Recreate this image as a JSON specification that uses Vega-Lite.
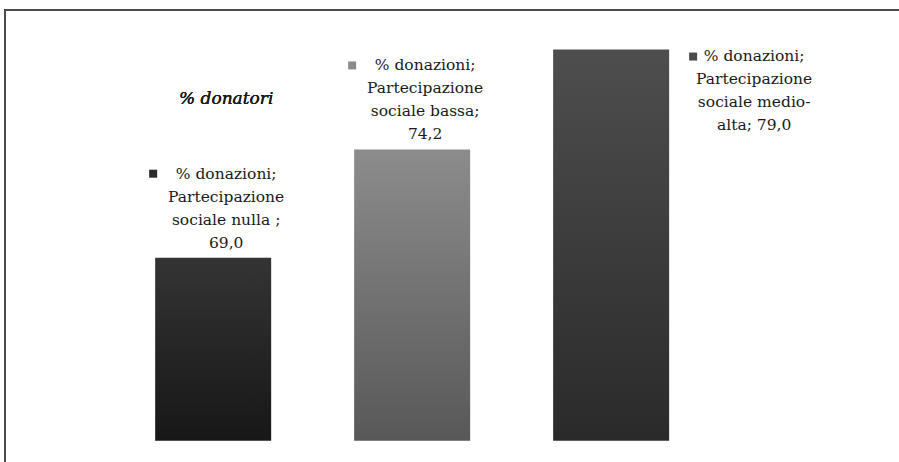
{
  "$schema": "https://vega.github.io/schema/vega-lite/v6.json",
  "width": 900,
  "height": 460,
  "padding": {"left": 5, "top": 10, "right": 0, "bottom": 0},
  "autosize": {"type": "none"},
  "background": "#ffffff",
  "config": {
    "view": {"stroke": "#4a4a4a", "strokeWidth": 2}
  },
  "data": {
    "values": [
      {"categoria": "Partecipazione sociale nulla", "valore": 69.0, "righe": ["% donazioni;", "Partecipazione", "sociale nulla ;", "69,0"]},
      {"categoria": "Partecipazione sociale bassa", "valore": 74.2, "righe": ["% donazioni;", "Partecipazione", "sociale bassa;", "74,2"]},
      {"categoria": "Partecipazione sociale medio-alta", "valore": 79.0, "righe": ["% donazioni;", "Partecipazione", "sociale medio-", "alta; 79,0"]}
    ]
  },
  "encoding": {
    "x": {
      "field": "categoria",
      "type": "nominal",
      "sort": null,
      "axis": null,
      "scale": {"paddingInner": 0.417, "paddingOuter": 0.97, "align": 0.389}
    },
    "y": {
      "field": "valore",
      "type": "quantitative",
      "axis": null,
      "scale": {"domain": [58.8, 80.9], "nice": false, "zero": false}
    }
  },
  "layer": [
    {
      "transform": [{"filter": "datum.categoria === 'Partecipazione sociale nulla'"}],
      "mark": {
        "type": "bar",
        "color": {"gradient": "linear", "x1": 0, "y1": 0, "x2": 0, "y2": 1,
          "stops": [{"offset": 0, "color": "#343434"}, {"offset": 1, "color": "#171717"}]}
      },
      "encoding": {"y2": {"datum": 60.2}}
    },
    {
      "transform": [{"filter": "datum.categoria === 'Partecipazione sociale bassa'"}],
      "mark": {
        "type": "bar",
        "color": {"gradient": "linear", "x1": 0, "y1": 0, "x2": 0, "y2": 1,
          "stops": [{"offset": 0, "color": "#8c8c8c"}, {"offset": 1, "color": "#585858"}]}
      },
      "encoding": {"y2": {"datum": 60.2}}
    },
    {
      "transform": [{"filter": "datum.categoria === 'Partecipazione sociale medio-alta'"}],
      "mark": {
        "type": "bar",
        "color": {"gradient": "linear", "x1": 0, "y1": 0, "x2": 0, "y2": 1,
          "stops": [{"offset": 0, "color": "#4e4e4e"}, {"offset": 1, "color": "#2a2a2a"}]}
      },
      "encoding": {"y2": {"datum": 60.2}}
    },
    {
      "transform": [{"filter": "datum.categoria !== 'Partecipazione sociale medio-alta'"}],
      "mark": {"type": "text", "font": "DejaVu Serif, serif", "fontSize": 15.5, "lineHeight": 23, "color": "#1a1a1a", "align": "center", "baseline": "alphabetic", "dx": 13, "dy": -79},
      "encoding": {"text": {"field": "righe"}}
    },
    {
      "transform": [{"filter": "datum.categoria === 'Partecipazione sociale medio-alta'"}],
      "mark": {"type": "text", "font": "DejaVu Serif, serif", "fontSize": 15.5, "lineHeight": 23, "color": "#1a1a1a", "align": "center", "baseline": "alphabetic", "dx": 143, "dy": 11},
      "encoding": {"text": {"field": "righe"}}
    },
    {
      "transform": [{"filter": "datum.categoria !== 'Partecipazione sociale medio-alta'"}],
      "mark": {"type": "square", "size": 64, "opacity": 1, "xOffset": -60, "yOffset": -84},
      "encoding": {
        "color": {
          "field": "categoria",
          "type": "nominal",
          "legend": null,
          "scale": {
            "domain": ["Partecipazione sociale nulla", "Partecipazione sociale bassa", "Partecipazione sociale medio-alta"],
            "range": ["#2a2a2a", "#8a8a8a", "#4a4a4a"]
          }
        }
      }
    },
    {
      "transform": [{"filter": "datum.categoria === 'Partecipazione sociale medio-alta'"}],
      "mark": {"type": "square", "size": 64, "opacity": 1, "xOffset": 82, "yOffset": 7},
      "encoding": {
        "color": {
          "field": "categoria",
          "type": "nominal",
          "legend": null,
          "scale": {
            "domain": ["Partecipazione sociale nulla", "Partecipazione sociale bassa", "Partecipazione sociale medio-alta"],
            "range": ["#2a2a2a", "#8a8a8a", "#4a4a4a"]
          }
        }
      }
    },
    {
      "mark": {"type": "text", "text": "% donatori", "font": "DejaVu Serif, serif", "fontStyle": "italic", "fontWeight": "normal", "fontSize": 17, "color": "#1a1a1a", "align": "center", "baseline": "alphabetic", "dx": 13},
      "encoding": {
        "x": {"datum": "Partecipazione sociale nulla", "type": "nominal"},
        "y": {"datum": 76.4, "type": "quantitative"}
      }
    }
  ]
}
